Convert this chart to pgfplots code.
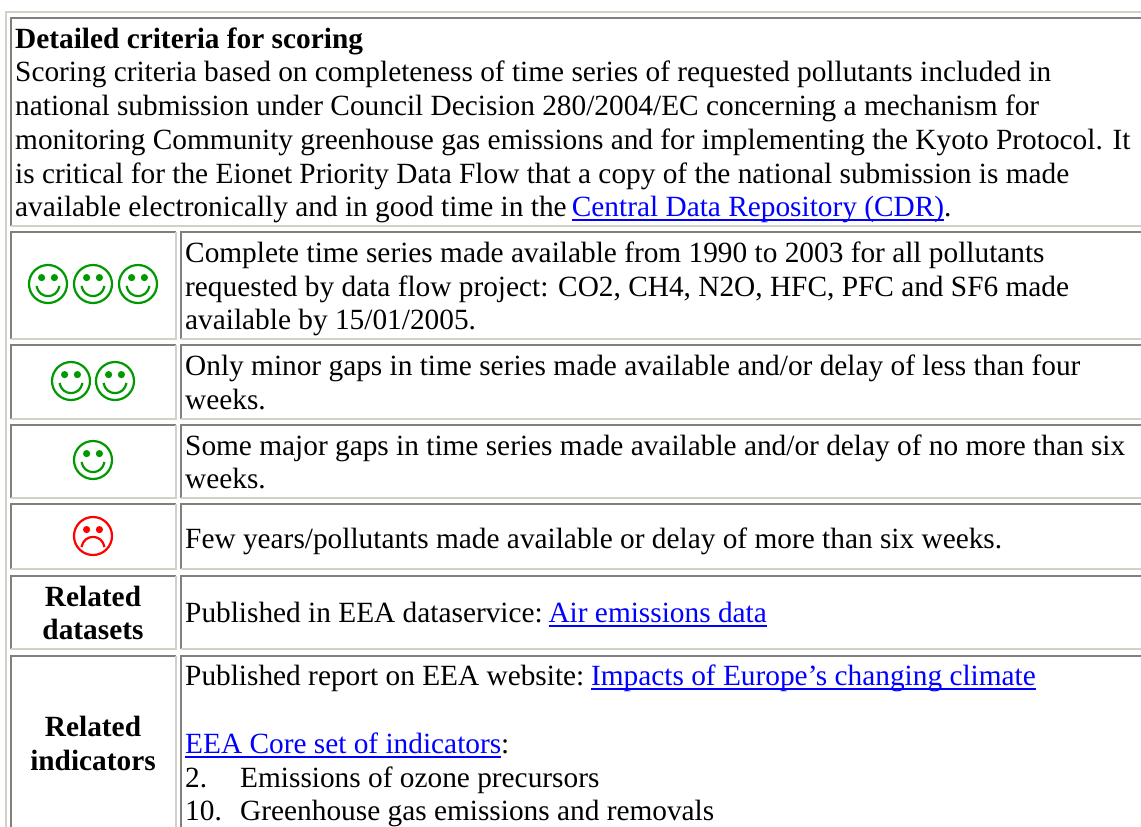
\documentclass[border=0pt]{standalone}
\usepackage{fontspec}
\setmainfont{Liberation Serif}
\usepackage{xcolor}
\usepackage{pgfplots}
\pgfplotsset{compat=1.18}

\definecolor{edgedark}{HTML}{808080}
\definecolor{edgelight}{HTML}{D4D0C8}
\definecolor{smilegreen}{HTML}{009900}
\definecolor{linkblue}{HTML}{0000FF}

% underlined link text
\newcommand{\lnk}[1]{\textcolor{linkblue}{\setbox0\hbox{#1}\rlap{\rule[-3.9pt]{\wd0}{1.6pt}}\box0}}

% face marks, sizes in px (1pt = 1px here)
\pgfdeclareplotmark{smile}{%
  \pgfsetlinewidth{2.2pt}%
  \pgfpathcircle{\pgfpointorigin}{19pt}\pgfusepathqstroke
  \pgfpathcircle{\pgfpoint{-6.4pt}{6.4pt}}{3.6pt}\pgfusepathqfill
  \pgfpathcircle{\pgfpoint{6.4pt}{6.4pt}}{3.6pt}\pgfusepathqfill
  \pgfpathmoveto{\pgfpoint{-11.5pt}{-2pt}}%
  \pgfpathcurveto{\pgfpoint{-9pt}{-15.5pt}}{\pgfpoint{9pt}{-15.5pt}}{\pgfpoint{11.5pt}{-2pt}}%
  \pgfusepathqstroke
}
\pgfdeclareplotmark{frown}{%
  \pgfsetlinewidth{2.2pt}%
  \pgfpathcircle{\pgfpointorigin}{19pt}\pgfusepathqstroke
  \pgfpathcircle{\pgfpoint{-6.4pt}{6.4pt}}{3.6pt}\pgfusepathqfill
  \pgfpathcircle{\pgfpoint{6.4pt}{6.4pt}}{3.6pt}\pgfusepathqfill
  \pgfpathmoveto{\pgfpoint{-11.5pt}{-11pt}}%
  \pgfpathcurveto{\pgfpoint{-9pt}{2.5pt}}{\pgfpoint{9pt}{2.5pt}}{\pgfpoint{11.5pt}{-11pt}}%
  \pgfusepathqstroke
}

% table cell: x0, y0, x1, y1 are the centres of its border lines
\newcommand{\cell}[4]{%
  \addplot[edgedark, line width=2pt] coordinates {(#1,#4) (#1,#2) (#3,#2)};
  \addplot[edgelight, line width=2pt] coordinates {(#3,#2) (#3,#4) (#1,#4)};
}
\newcommand{\T}[3]{\node[anchor=base west, inner sep=0pt, yshift=-0.6pt] at (axis cs:#1,#2) {#3};}
\newcommand{\B}[2]{\node[anchor=base, inner sep=0pt, yshift=-0.6pt] at (axis cs:93,#1) {\bfseries #2};}

\begin{document}
\begin{tikzpicture}
\begin{axis}[
    scale only axis,
    width=1141pt,
    height=827pt,
    xmin=0, xmax=1141,
    ymin=0, ymax=827,
    y dir=reverse,
    ticks=none,
    axis line style={draw=none},
    font=\fontsize{29.33pt}{33pt}\selectfont,
    every axis plot/.append style={line cap=butt, line join=miter},
]
% outer frame
\addplot[edgelight, line width=2pt] coordinates {(6,827) (6,12) (1141,12)};

\cell{11}{18}{1160}{226}
\cell{11}{232}{176}{339}
\cell{181}{232}{1160}{339}
\cell{11}{345}{176}{419}
\cell{181}{345}{1160}{419}
\cell{11}{425}{176}{498}
\cell{181}{425}{1160}{498}
\cell{11}{504}{176}{569}
\cell{181}{504}{1160}{569}
\cell{11}{576}{176}{649}
\cell{181}{576}{1160}{649}
\cell{11}{656}{176}{860}
\cell{181}{656}{1160}{860}

\addplot[smilegreen, only marks, mark=smile] coordinates {
    (48,284) (93,284) (138,284)
    (71,381) (115,381)
    (93,460)
};
\addplot[red, only marks, mark=frown] coordinates {(93,536)};

\T{15}{48}{\bfseries Detailed criteria for scoring}
\T{15}{81}{Scoring criteria based on completeness of time series of requested pollutants included in}
\T{15}{115}{national submission under Council Decision 280/2004/EC concerning a mechanism for}
\T{15}{149}{monitoring Community greenhouse gas emissions and for implementing the Kyoto Protocol. It}
\T{15}{183}{is critical for the Eionet Priority Data Flow that a copy of the national submission is made}
\T{15}{216}{available electronically and in good time in the \hspace*{-2pt}\lnk{Central Data Repository (CDR)}.}

\T{185}{262}{Complete time series made available from 1990 to 2003 for all pollutants}
\T{185}{296}{requested by data flow project: CO2, CH4, N2O, HFC, PFC and SF6 made}
\T{185}{329}{available by 15/01/2005.}
\T{185}{375}{Only minor gaps in time series made available and/or delay of less than four}
\T{185}{409}{weeks.}
\T{185}{455}{Some major gaps in time series made available and/or delay of no more than six}
\T{185}{488}{weeks.}
\T{185}{548}{Few years/pollutants made available or delay of more than six weeks.}

\B{606}{Related}
\B{639}{datasets}
\T{185}{622}{Published in EEA dataservice: \hspace*{-4pt}\lnk{Air emissions data}}

\B{736}{Related}
\B{770}{indicators}
\T{185}{685}{Published report on EEA website: \hspace*{-3pt}\lnk{Impacts of Europe's changing climate}}
\T{185}{753}{\lnk{EEA Core set of indicators}:}
\T{185}{787}{2.}
\T{240}{787}{Emissions of ozone precursors}
\T{185}{820}{10.}
\T{240}{820}{Greenhouse gas emissions and removals}
\end{axis}
\pgfresetboundingbox
\useasboundingbox (current axis.south west) rectangle (current axis.north east);
\end{tikzpicture}
\end{document}
